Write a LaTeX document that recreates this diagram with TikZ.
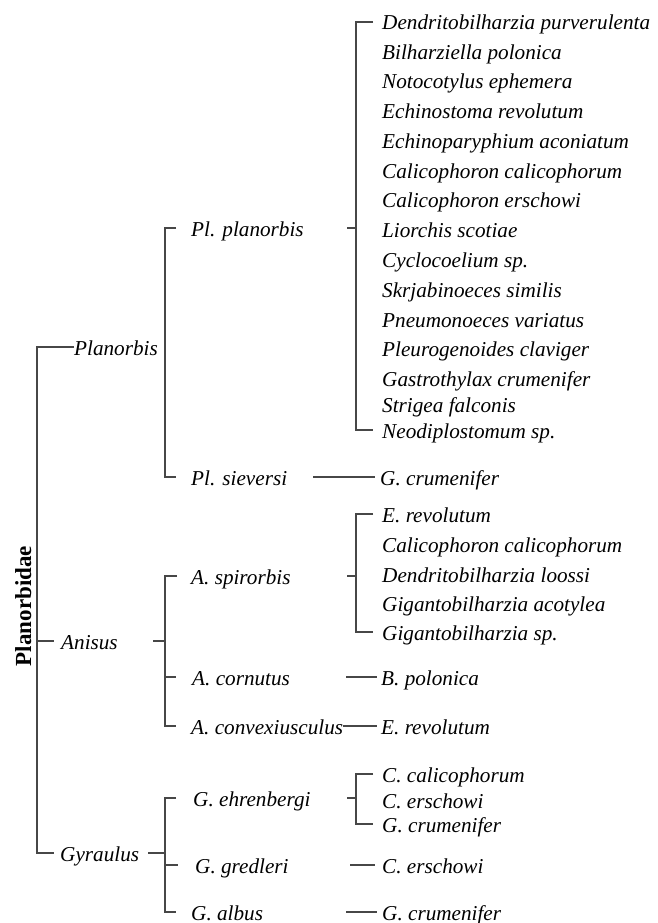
\documentclass[tikz,border=0pt]{standalone}
\usepackage{fontspec}
\setmainfont{Liberation Serif}
\begin{document}
\begin{tikzpicture}[x=1pt,y=-1pt,
  tx/.style={anchor=west,inner sep=0pt,text height=16pt,text depth=0pt,font=\itshape\fontsize{21.2}{24}\selectfont},
  ln/.style={draw=black!72,line width=1.1pt}]
\useasboundingbox (0,0) rectangle (657,923);
% columns
\coordinate (X0) at (37,0);
\coordinate (X1) at (165,0);
\coordinate (X1a) at (153,0);
\coordinate (X1b) at (148,0);
\coordinate (X2) at (356,0);
\coordinate (X2m) at (347,0);
\coordinate (X2e) at (346,0);
\coordinate (X2g) at (350,0);
\coordinate (X3) at (313,0);
% root
\node[rotate=90,anchor=base,inner sep=0pt,font=\bfseries\fontsize{23}{25}\selectfont] (root) at (31,606) {Planorbidae};
% genera
\node[tx] (pla) at (74,347) {Planorbis};
\node[tx] (ani) at (61,641) {Anisus};
\node[tx] (gyr) at (60,853) {Gyraulus};
% species
\node[tx] (pp) at (191,228) {Pl. planorbis};
\node[tx] (ps) at (191,477) {Pl. sieversi};
\node[tx] (as) at (191,576) {A. spirorbis};
\node[tx] (ac) at (192,677) {A. cornutus};
\node[tx] (ax) at (191,726) {A. convexiusculus};
\node[tx] (ge) at (193,798) {G. ehrenbergi};
\node[tx] (gg) at (195,865) {G. gredleri};
\node[tx] (ga) at (191,912) {G. albus};
% parasites of Pl. planorbis
\node[tx] (d1) at (382,22) {Dendritobilharzia purverulenta};
\node[tx] (d2) at (382,52) {Bilharziella polonica};
\node[tx] (d3) at (382,81) {Notocotylus ephemera};
\node[tx] (d4) at (382,111) {Echinostoma revolutum};
\node[tx] (d5) at (382,141) {Echinoparyphium aconiatum};
\node[tx] (d6) at (382,170) {Calicophoron calicophorum};
\node[tx] (d7) at (382,199) {Calicophoron erschowi};
\node[tx] (d8) at (382,229) {Liorchis scotiae};
\node[tx] (d9) at (382,259) {Cyclocoelium sp.};
\node[tx] (d10) at (382,289) {Skrjabinoeces similis};
\node[tx] (d11) at (382,319) {Pneumonoeces variatus};
\node[tx] (d12) at (382,348) {Pleurogenoides claviger};
\node[tx] (d13) at (382,378) {Gastrothylax crumenifer};
\node[tx] (d14) at (382,404) {Strigea falconis};
\node[tx] (d15) at (382,430) {Neodiplostomum sp.};
% Pl. sieversi
\node[tx] (s1) at (380,477) {G. crumenifer};
% A. spirorbis
\node[tx] (e1) at (382,514) {E. revolutum};
\node[tx] (e2) at (382,544) {Calicophoron calicophorum};
\node[tx] (e3) at (382,574) {Dendritobilharzia loossi};
\node[tx] (e4) at (382,603) {Gigantobilharzia acotylea};
\node[tx] (e5) at (382,632) {Gigantobilharzia sp.};
% A. cornutus, A. convexiusculus
\node[tx] (c1) at (381,677) {B. polonica};
\node[tx] (x1) at (381,726) {E. revolutum};
% G. ehrenbergi
\node[tx] (h1) at (382,774) {C. calicophorum};
\node[tx] (h2) at (382,800) {C. erschowi};
\node[tx] (h3) at (382,824) {G. crumenifer};
% G. gredleri, G. albus
\node[tx] (r1) at (382,865) {C. erschowi};
\node[tx] (b1) at (382,912) {G. crumenifer};
% main tree
\draw[ln] (pla.west) -| (X0 |- gyr.west) -- ([xshift=-6pt]gyr.west);
\draw[ln] (X0 |- ani.west) -- ([xshift=-7pt]ani.west);
% Planorbis bracket
\draw[ln] ([xshift=-15pt]pp.west) -| (X1 |- ps.west) -- ([xshift=-15pt]ps.west);
% Anisus bracket
\draw[ln] ([xshift=-14pt]as.west) -| (X1 |- ax.west) -- ([xshift=-15pt]ax.west);
\draw[ln] (X1 |- ac.west) -- ([xshift=-16pt]ac.west);
\draw[ln] (X1a |- ani.west) -- (X1 |- ani.west);
% Gyraulus bracket
\draw[ln] ([xshift=-17pt]ge.west) -| (X1 |- ga.west) -- ([xshift=-15pt]ga.west);
\draw[ln] (X1 |- gg.west) -- ([xshift=-17pt]gg.west);
\draw[ln] (X1b |- gyr.west) -- (X1 |- gyr.west);
% Pl. planorbis list
\draw[ln] ([xshift=-9pt]d1.west) -| (X2 |- d15.west) -- ([xshift=-9pt]d15.west);
\draw[ln] (X2m |- pp.west) -- (X2 |- pp.west);
% Pl. sieversi
\draw[ln] (X3 |- ps.west) -- ([xshift=-5pt]s1.west);
% A. spirorbis list
\draw[ln] ([xshift=-9pt]e1.west) -| (X2 |- e5.west) -- ([xshift=-9pt]e5.west);
\draw[ln] (X2m |- as.west) -- (X2 |- as.west);
% A. cornutus, A. convexiusculus
\draw[ln] (X2e |- ac.west) -- ([xshift=-4pt]c1.west);
\draw[ln] (ax.east) -- ([xshift=-4pt]x1.west);
% G. ehrenbergi list
\draw[ln] ([xshift=-9pt]h1.west) -| (X2 |- h3.west) -- ([xshift=-9pt]h3.west);
\draw[ln] (X2m |- ge.west) -- (X2 |- ge.west);
% G. gredleri, G. albus
\draw[ln] (X2g |- r1.west) -- ([xshift=-7pt]r1.west);
\draw[ln] (X2e |- b1.west) -- ([xshift=-5pt]b1.west);
\end{tikzpicture}
\end{document}
